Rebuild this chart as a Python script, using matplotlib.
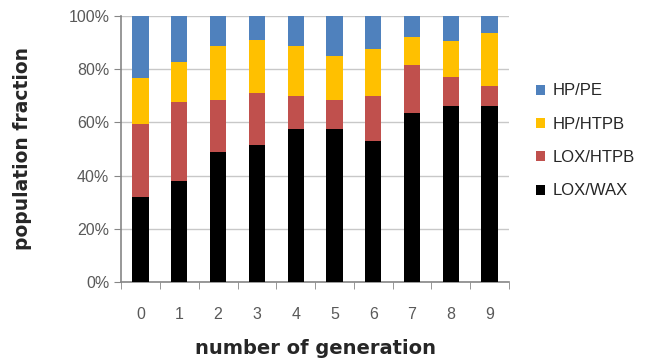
import matplotlib
matplotlib.use("Agg")
import matplotlib.pyplot as plt
import numpy as np
from matplotlib.ticker import FixedLocator, PercentFormatter

generations = [0, 1, 2, 3, 4, 5, 6, 7, 8, 9]
lox_wax = [32.0, 38.0, 49.0, 51.5, 57.5, 57.5, 53.0, 63.5, 66.0, 66.0]
lox_htpb = [27.5, 29.5, 19.5, 19.5, 12.5, 11.0, 17.0, 18.0, 11.0, 7.5]
hp_htpb = [17.0, 15.0, 20.0, 20.0, 18.5, 16.5, 17.5, 10.5, 13.5, 20.0]
hp_pe = [23.5, 17.5, 11.5, 9.0, 11.5, 15.0, 12.5, 8.0, 9.5, 6.5]

series = [("LOX/WAX", lox_wax, "#000000"),
          ("LOX/HTPB", lox_htpb, "#C0504D"),
          ("HP/HTPB", hp_htpb, "#FFC000"),
          ("HP/PE", hp_pe, "#4F81BD")]

fig = plt.figure(figsize=(6.55, 3.61), dpi=100)
ax = fig.add_axes([0.185, 0.219, 0.592, 0.737])

x = np.arange(len(generations))
bottom = np.zeros(len(generations))
handles = []
for name, vals, col in series:
    b = ax.bar(x, vals, bottom=bottom, width=0.42, color=col, label=name, zorder=3)
    handles.append(b)
    bottom += np.array(vals)

ax.set_xlim(-0.5, len(generations) - 0.5)
ax.set_ylim(0, 100)
ax.set_yticks(np.arange(0, 101, 20))
ax.yaxis.set_major_formatter(PercentFormatter(decimals=0))
ax.set_xticks(x)
ax.set_xticklabels([str(g) for g in generations])
ax.xaxis.set_minor_locator(FixedLocator(np.arange(-0.5, len(generations), 1.0)))
ax.tick_params(axis="x", which="major", length=0, pad=18, labelsize=11.5, labelcolor="#595959")
ax.tick_params(axis="x", which="minor", length=5, color="#868686", direction="out")
ax.tick_params(axis="y", length=5, color="#868686", labelsize=11.5, labelcolor="#595959")
for lbl in ax.get_xticklabels() + ax.get_yticklabels():
    lbl.set_family("Liberation Sans")

ax.grid(axis="y", color="#C8C8C8", linewidth=1, zorder=0)
for s in ["top", "right"]:
    ax.spines[s].set_visible(False)
for s in ["left", "bottom"]:
    ax.spines[s].set_color("#868686")
    ax.spines[s].set_linewidth(1.2)

ax.set_ylabel("population fraction", fontsize=13.5, fontweight="bold", color="#262626", labelpad=26)
ax.set_xlabel("number of generation", fontsize=14, fontweight="bold", color="#262626", labelpad=12)

leg = ax.legend(handles[::-1], [s[0] for s in series][::-1],
                loc="center left", bbox_to_anchor=(1.03, 0.53), frameon=False,
                prop={"family": "Liberation Sans", "size": 12},
                handlelength=0.55, handleheight=0.55, handletextpad=0.45,
                labelspacing=1.1, labelcolor="#262626")

fig.savefig("out.png", dpi=100)
